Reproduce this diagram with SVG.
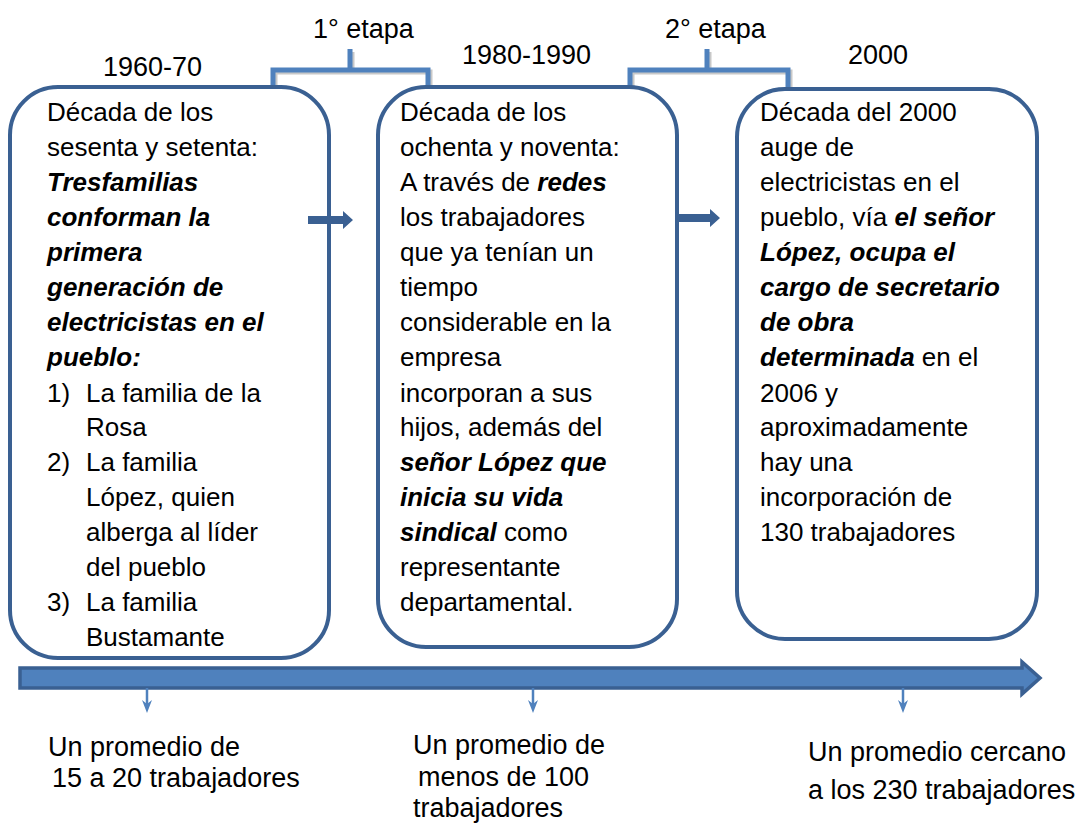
<svg xmlns="http://www.w3.org/2000/svg" width="1088" height="825" viewBox="0 0 1088 825">
<style>
text{font-family:"Liberation Sans",Arial,sans-serif;font-size:26px;fill:#000}
.b{font-weight:bold;font-style:italic}
.lbl{font-size:27px}
.box{fill:none;stroke:#3A6092;stroke-width:4}
.br{fill:none;stroke:#4F81BD;stroke-width:5}
.brs{fill:none;stroke:#C8C8C8;stroke-width:5}
.blk{fill:#3A6092}
.down{stroke:#4F81BD;stroke-width:2.5;fill:none}
.dh{fill:#4F81BD}
</style>
<rect width="1088" height="825" fill="#fff"/>

<g id="connectors">
<path class="brs" d="M275,89 V72 H430 V89 M352,72 V52"/>
<path class="br" d="M273,87 V70 H428 V87 M350,70 V49"/>
<path class="brs" d="M632,89 V72 H790 V89 M709,72 V52"/>
<path class="br" d="M630,87 V70 H788 V87 M707,70 V49"/>
<polygon class="blk" points="308,216 343,216 343,211 353,220 343,229 343,224 308,224"/>
<polygon class="blk" points="678,214 710,214 710,209 720,218 710,227 710,222 678,222"/>
<polygon points="20,668 1022,668 1022,662 1040,678 1022,694 1022,688 20,688" fill="#4F81BD" stroke="#3A6092" stroke-width="3.5"/>
<line class="down" x1="147" y1="688" x2="147" y2="706"/>
<path class="dh" d="M142,700 L147,713 L152,700 L147,704 Z"/>
<line class="down" x1="533" y1="688" x2="533" y2="706"/>
<path class="dh" d="M528,700 L533,713 L538,700 L533,704 Z"/>
<line class="down" x1="903" y1="688" x2="903" y2="706"/>
<path class="dh" d="M898,700 L903,713 L908,700 L903,704 Z"/>
</g>

<g id="labels-top">
<text class="lbl" x="103" y="76">1960-70</text>
<text class="lbl" x="462" y="64">1980-1990</text>
<text class="lbl" x="848" y="64">2000</text>
<text class="lbl" x="313" y="38">1° etapa</text>
<text class="lbl" x="665" y="38">2° etapa</text>
</g>

<g id="node1">
<rect class="box" x="10" y="87" width="319" height="571" rx="48" ry="48"/>
<text x="47" y="121">Década de los</text>
<text x="47" y="156">sesenta y setenta:</text>
<text x="47" y="191" class="b">Tresfamilias</text>
<text x="47" y="226" class="b">conforman la</text>
<text x="47" y="261" class="b">primera</text>
<text x="47" y="296" class="b">generación de</text>
<text x="47" y="331" class="b">electricistas en el</text>
<text x="47" y="366" class="b">pueblo:</text>
<text x="47" y="402">1)</text><text x="86" y="402">La familia de la</text>
<text x="86" y="436">Rosa</text>
<text x="47" y="471">2)</text><text x="86" y="471">La familia</text>
<text x="86" y="506">López, quien</text>
<text x="86" y="541">alberga al líder</text>
<text x="86" y="576">del pueblo</text>
<text x="47" y="611">3)</text><text x="86" y="611">La familia</text>
<text x="86" y="646">Bustamante</text>
</g>

<g id="node2">
<rect class="box" x="378" y="87" width="299" height="560" rx="48" ry="48"/>
<text x="400" y="121">Década de los</text>
<text x="400" y="156">ochenta y noventa:</text>
<text x="400" y="191">A través de <tspan class="b">redes</tspan></text>
<text x="400" y="226">los trabajadores</text>
<text x="400" y="261">que ya tenían un</text>
<text x="400" y="296">tiempo</text>
<text x="400" y="331">considerable en la</text>
<text x="400" y="366">empresa</text>
<text x="400" y="402">incorporan a sus</text>
<text x="400" y="436">hijos, además del</text>
<text x="400" y="471" class="b">señor López que</text>
<text x="400" y="506" class="b">inicia su vida</text>
<text x="400" y="541"><tspan class="b">sindical</tspan> como</text>
<text x="400" y="576">representante</text>
<text x="400" y="611">departamental.</text>
</g>

<g id="node3">
<rect class="box" x="737" y="89" width="300" height="550" rx="48" ry="48"/>
<text x="760" y="121">Década del 2000</text>
<text x="760" y="156">auge de</text>
<text x="760" y="191">electricistas en el</text>
<text x="760" y="226">pueblo, vía <tspan class="b">el señor</tspan></text>
<text x="760" y="261" class="b">López, ocupa el</text>
<text x="760" y="296" class="b">cargo de secretario</text>
<text x="760" y="331" class="b">de obra</text>
<text x="760" y="366"><tspan class="b">determinada</tspan> en el</text>
<text x="760" y="402">2006 y</text>
<text x="760" y="436">aproximadamente</text>
<text x="760" y="471">hay una</text>
<text x="760" y="506">incorporación de</text>
<text x="760" y="541">130 trabajadores</text>
</g>

<g id="labels-bottom">
<text class="lbl" x="48" y="756">Un promedio de</text>
<text class="lbl" x="52" y="787">15 a 20 trabajadores</text>
<text class="lbl" x="413" y="754">Un promedio de</text>
<text class="lbl" x="418" y="786">menos de 100</text>
<text class="lbl" x="413" y="817">trabajadores</text>
<text class="lbl" x="808" y="761">Un promedio cercano</text>
<text class="lbl" x="808" y="799">a los 230 trabajadores</text>
</g>
</svg>
